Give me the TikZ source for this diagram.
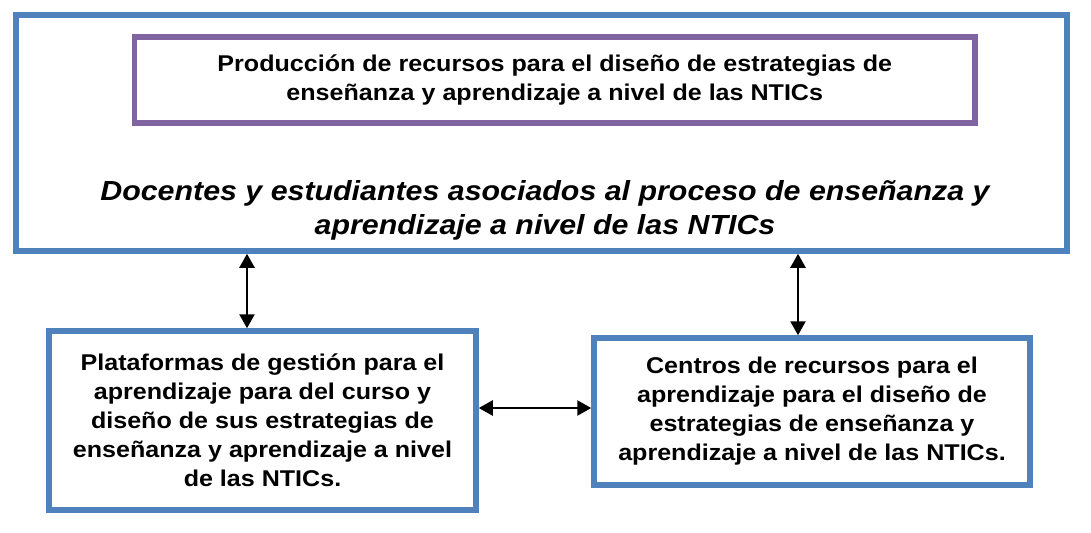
\documentclass[tikz,border=0pt]{standalone}
\usepackage{fontspec}
\setmainfont{Liberation Sans}[FakeStretch=1.1]
\usetikzlibrary{positioning, arrows.meta, calc}
\definecolor{azul}{HTML}{4F81BD}
\definecolor{morado}{HTML}{8064A2}

\begin{document}
\begin{tikzpicture}[x=0.5pt, y=-0.5pt,
	caja/.style={draw=azul, line width=2.75pt, align=center, font=\bfseries\fontsize{11.4}{14.5}\selectfont},
	flecha/.style={{Triangle[length=7pt,width=7.5pt]}-{Triangle[length=7pt,width=7.5pt]}, line width=1.2pt}]
	\useasboundingbox (0,0) rectangle (1091,532);
	\node[caja, minimum width=525.5pt, minimum height=118pt] (marco) at (541.5,133) {};
	\node[caja, draw=morado, minimum width=420.25pt, minimum height=43pt] (produccion) at (554.75,80) {Producción de recursos para el diseño de estrategias de\\enseñanza y aprendizaje a nivel de las NTICs};
	\node[align=center, font=\bfseries\itshape\fontsize{13.8}{17}\selectfont] (docentes) at (545,210) {Docentes y estudiantes asociados al proceso de enseñanza y\\aprendizaje a nivel de las NTICs};
	\node[caja, minimum width=213.5pt, minimum height=89.5pt] (plataformas) at (262.5,420.5) {Plataformas de gestión para el\\aprendizaje para del curso y\\diseño de sus estrategias de\\enseñanza y aprendizaje a nivel\\de las NTICs.};
	\node[caja, minimum width=218pt, minimum height=73.5pt] (centros) at (812,411.5) {Centros de recursos para el\\aprendizaje para el diseño de\\estrategias de enseñanza y\\aprendizaje a nivel de las NTICs.};
	\coordinate (pA) at ([xshift=-7.75pt]plataformas.north);
	\coordinate (pB) at ([xshift=-7pt]centros.north);
	\coordinate (pC) at ([yshift=1.75pt]centros.west);
	\draw[flecha] (pA) -- (pA |- marco.south);
	\draw[flecha] (pB) -- (pB |- marco.south);
	\draw[flecha] (pC -| plataformas.east) -- (pC);
\end{tikzpicture}
\end{document}
